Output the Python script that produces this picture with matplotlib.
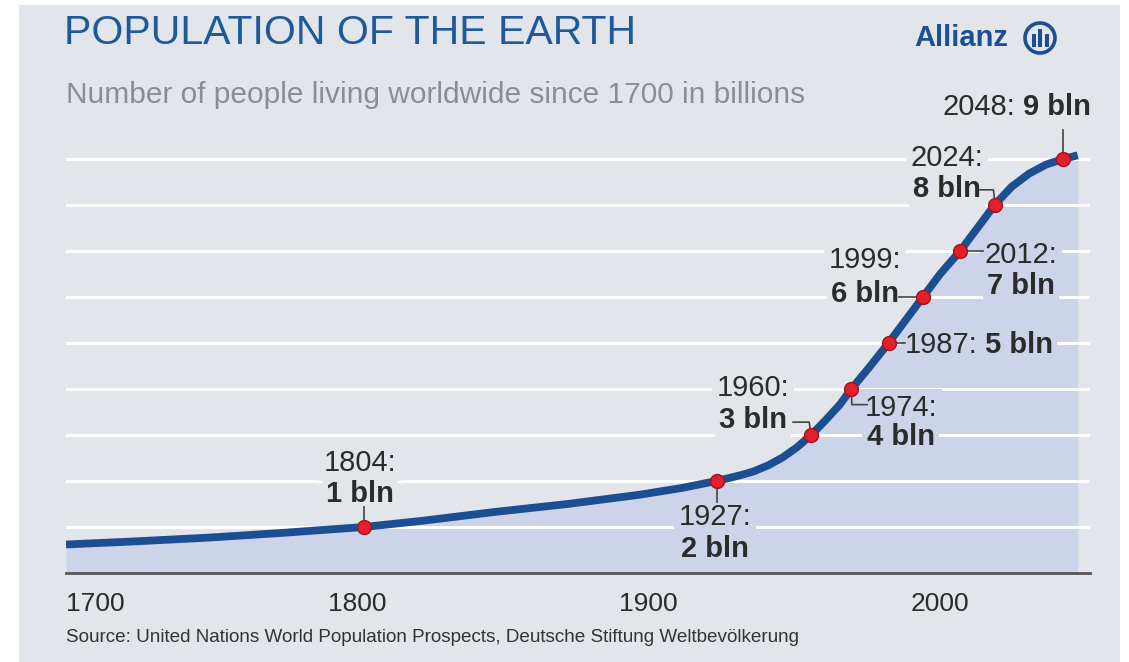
import matplotlib
matplotlib.use("Agg")
import matplotlib.pyplot as plt
from matplotlib.patches import Rectangle, Ellipse
from matplotlib.transforms import ScaledTranslation

# data (billions)
years = [1700, 1725, 1750, 1775, 1804, 1825, 1850, 1875, 1900, 1915, 1927, 1935, 1940, 1945,
         1950, 1955, 1960, 1965, 1970, 1974, 1980, 1987, 1993, 1999, 2005, 2012, 2018, 2024,
         2030, 2036, 2042, 2048, 2053]
pop = [0.62, 0.69, 0.77, 0.87, 1.0, 1.14, 1.33, 1.5, 1.7, 1.85, 2.0, 2.12, 2.21, 2.34,
       2.51, 2.73, 3.0, 3.32, 3.66, 4.0, 4.45, 5.0, 5.5, 6.0, 6.5, 7.0, 7.5, 8.0,
       8.4, 8.68, 8.88, 9.0, 9.08]

mark_years = [1804, 1927, 1960, 1974, 1987, 1999, 2012, 2024, 2048]
mark_pop = [1, 2, 3, 4, 5, 6, 7, 8, 9]

tick_years = [1700, 1800, 1900, 2000]

title = "POPULATION OF THE EARTH"
subtitle = "Number of people living worldwide since 1700 in billions"
source = "Source: United Nations World Population Prospects, Deutsche Stiftung Weltbevölkerung"

base = "Liberation Sans"

W, H = 1129, 662
panel = "#e2e5e9"
fillc = "#cdd3e8"
blue = "#1b4f92"
dark = "#2b2b2b"


def fx(px):
    return px / W


def fy(py):
    return 1 - py / H


fig = plt.figure(figsize=(W / 100, H / 100), dpi=100, facecolor="white")
fig.patches.append(Rectangle((fx(19), 0), fx(1120) - fx(19), fy(5), transform=fig.transFigure,
                             facecolor=panel, edgecolor="none", zorder=-5))

ymax = 10.5
ax = fig.add_axes([fx(66), fy(573), fx(1090) - fx(66), (ymax * 46) / H])
ax.set_zorder(2)
ax.patch.set_visible(False)
ax.set_xlim(1700, 1700 + (1090 - 66) / 2.866)
ax.set_ylim(0, ymax)

ax.fill_between(years, pop, 0, color=fillc, zorder=1, lw=0)
for g in range(1, 10):
    ax.axhline(g, color="white", lw=2.2, zorder=1.5)
ax.plot(years, pop, color=blue, lw=5.6, zorder=3, solid_capstyle="butt", solid_joinstyle="round")
ax.plot(mark_years, mark_pop, "o", ms=10, color="#e0202a", mec="#9e1520", mew=1, zorder=4)

for s in ["top", "left", "right"]:
    ax.spines[s].set_visible(False)
ax.spines["bottom"].set_color("#555555")
ax.spines["bottom"].set_linewidth(2)
ax.set_yticks([])
ax.set_xticks(tick_years)
ax.set_xticklabels([str(t) for t in tick_years], fontsize=19, color=dark, family=base)
ax.tick_params(axis="x", length=0, pad=14)
lbls = ax.get_xticklabels()
lbls[0].set_ha("left")
for lb, dx in zip(lbls, [0, 5, 9, 14]):
    lb.set_transform(lb.get_transform() + ScaledTranslation(dx / 100, 0, fig.dpi_scale_trans))

lab_kw = dict(fontsize=21, color=dark, family=base, zorder=2)


def label(x, y, s, bold=False, ha="center", bg=panel):
    return ax.text(x, y, s, ha=ha, va="center", fontweight="bold" if bold else "normal",
                   bbox=dict(boxstyle="square,pad=0.15", fc=bg, ec="none"), **lab_kw)


def leader(xs, ys):
    ax.plot(xs, ys, color="#444444", lw=1.2, zorder=2.5)


# 1804
label(1802.6, 2.39, "1804:")
label(1802.6, 1.72, "1 bln", bold=True)
leader([1804, 1804], [1.43, 1.0])
# 1927
label(1926.4, 1.22, "1927:", bg=fillc)
label(1926.4, 0.52, "2 bln", bold=True, bg=fillc)
leader([1927, 1927], [2.0, 1.55])
# 1960
label(1939.7, 4.02, "1960:")
label(1939.7, 3.33, "3 bln", bold=True)
leader([1953.7, 1959.3, 1960], [3.28, 3.28, 3.0])
# 1974
label(1991.3, 3.59, "1974:", bg=fillc)
label(1991.3, 2.96, "4 bln", bold=True, bg=fillc)
leader([1974, 1974.2, 1979.5], [4.0, 3.66, 3.66])
# 1987
t = label(1992.8, 4.96, "1987:", ha="left", bg=fillc)
leader([1987, 1992.6], [5.0, 5.0])
# 1999
label(1978.8, 6.80, "1999:")
label(1978.8, 6.07, "6 bln", bold=True)
leader([1990.8, 1999], [6.0, 6.0])
# 2012
label(2033.2, 6.91, "2012:", bg=fillc)
label(2033.2, 6.24, "7 bln", bold=True, bg=fillc)
leader([2012, 2020], [7.0, 7.0])
# 2024
label(2007.4, 9.02, "2024:")
label(2007.4, 8.35, "8 bln", bold=True)
leader([2018.9, 2023.6, 2024.2], [8.33, 8.33, 8.0])
# 2048
t2 = label(2006.0, 10.13, "2048:", ha="left")
leader([2048, 2048], [9.0, 9.63])

fig.canvas.draw()
r = fig.canvas.get_renderer()
inv = ax.transData.inverted()
for tt, s, bg in [(t, "5 bln", fillc), (t2, "9 bln", panel)]:
    bb = tt.get_window_extent(renderer=r)
    xd = inv.transform((bb.x1 + 7, bb.y0))[0]
    ax.text(xd, tt.get_position()[1], s, ha="left", va="center", fontweight="bold",
            bbox=dict(boxstyle="square,pad=0.15", fc=bg, ec="none"), **lab_kw)

# header
fig.text(fx(64), fy(33), title, fontsize=29.5, color="#1d5a9c", family=base, va="center", ha="left")
fig.text(fx(66), fy(95), subtitle, fontsize=21.5, color="#8a8d92", family=base, va="center", ha="left")
fig.text(fx(66), fy(637), source, fontsize=13.6, color="#333333", family=base, va="center", ha="left")

# logo
fig.text(fx(914), fy(38), "Allianz", fontsize=21, fontweight="bold", color=blue, family=base,
         va="center", ha="left")
fig.patches.append(Ellipse((fx(1040), fy(38)), 30 / W, 30 / H, transform=fig.transFigure,
                           facecolor="none", edgecolor=blue, lw=2.6))
for bx, top in [(1033.5, 34), (1040, 29), (1046.5, 34)]:
    fig.patches.append(Rectangle((fx(bx - 2), fy(47)), 4 / W, (47 - top) / H,
                                 transform=fig.transFigure, facecolor=blue, edgecolor="none"))

fig.savefig("out.png", dpi=100, facecolor="white")
